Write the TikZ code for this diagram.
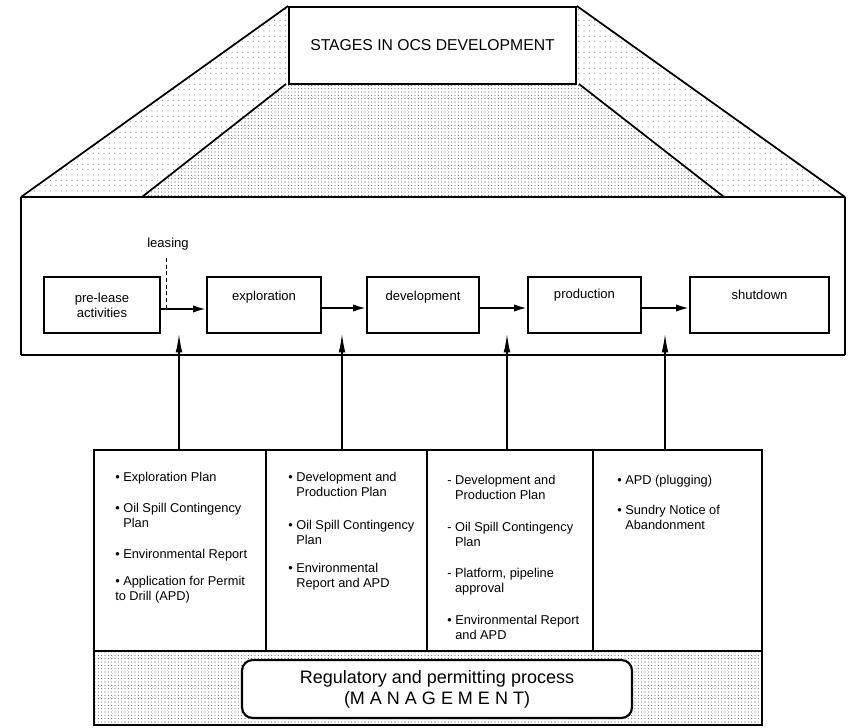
\documentclass[tikz,border=0pt]{standalone}
\usepackage{fontspec}
\setmainfont{Liberation Sans}
\usetikzlibrary{arrows.meta,patterns.meta,calc}

% stippled fills
\tikzdeclarepattern{
  name=finestipple, type=uncolored,
  bottom left={(-.1pt,-.1pt)}, top right={(2.6pt,2.6pt)},
  tile size={(2.5pt,2.5pt)},
  code={\fill (1.25pt,1.25pt) circle (0.4pt);}
}
\tikzdeclarepattern{
  name=sparsestipple, type=uncolored,
  bottom left={(-.1pt,-.1pt)}, top right={(4.1pt,4.1pt)},
  tile size={(4pt,4pt)},
  code={\fill (2pt,2pt) circle (0.38pt);}
}

\begin{document}
\begin{tikzpicture}[x=0.75pt,y=-0.75pt,
  heavy/.style={line width=2.2pt},
  edge/.style={line width=1.3pt},
  titlebox/.style={draw, line width=1.5pt, fill=white, inner sep=0pt,
    minimum width=215pt, minimum height=57.75pt,
    font=\fontsize{11.8}{14}\selectfont},
  stagebox/.style={draw, line width=1pt, inner sep=0pt, minimum height=42pt},
  stagelabel/.style={inner sep=0pt, align=center,
    font=\fontsize{9.8}{11.25}\selectfont},
  harrow/.style={line width=1.6pt, -{Latex[length=10pt,width=5.5pt]}},
  uparrow/.style={line width=1.1pt, -{Latex[length=14pt,width=5pt]}},
  item/.style={anchor=north west, inner sep=0pt, align=left,
    font=\fontsize{9.6}{11.5}\selectfont},
  mgmtbox/.style={draw, line width=1.6pt, fill=white, rounded corners=8pt,
    minimum width=292.5pt, minimum height=43.5pt, align=center,
    font=\fontsize{13.5}{16}\selectfont},
  stipple/.style={pattern=finestipple, pattern color=black!65},
  sparse/.style={pattern=sparsestipple, pattern color=black!55}
]
\useasboundingbox (0,0) rectangle (848,727);

% ---------- roof over the stage frame ----------
\node[titlebox] (title) at (432.5,45.5) {STAGES IN OCS DEVELOPMENT};
\coordinate (outerL) at (21,197);
\coordinate (outerR) at (845,197);
\coordinate (innerL) at (142,197);
\coordinate (innerR) at (724,197);
\coordinate (innerTL) at (286,84);
\coordinate (innerTR) at (579,84);

\fill[sparse] (title.north west) -- (outerL) -- (innerL) -- (innerTL)
  -- (title.south west) -- cycle;
\fill[sparse] (title.north east) -- (outerR) -- (innerR) -- (innerTR)
  -- (title.south east) -- cycle;
\fill[stipple] (innerTL) -- (innerTR) -- (innerR) -- (innerL) -- cycle;
\node[titlebox] at (title) {STAGES IN OCS DEVELOPMENT};

\draw[edge] (title.north west) -- (outerL);
\draw[edge] (title.north east) -- (outerR);
\draw[edge] (innerTL) -- (innerL);
\draw[edge] (innerTR) -- (innerR);

% ---------- stage frame ----------
\coordinate (frameBL) at (21,355);
\coordinate (frameBR) at (845,355);
\draw[line width=1pt] (outerL) -- (frameBL);
\draw[line width=1.3pt] (outerR) -- (frameBR);
\draw[heavy] (outerL) -- (outerR);
\draw[heavy] (frameBL) -- (frameBR);

% ---------- stages ----------
\node[stagebox, minimum width=87pt]    (prel) at (102,305) {};
\node[stagebox, minimum width=85.5pt]  (expl) at (264,305) {};
\node[stagebox, minimum width=84pt]    (devl) at (423,305) {};
\node[stagebox, minimum width=84.75pt] (prod) at (584.5,305) {};
\node[stagebox, minimum width=104.25pt](shut) at (759.5,305) {};

\node[stagelabel] (prelT) at (prel) {pre-lease\\activities};
\node[stagelabel] (explT) at ($(expl.north)+(0,21)$) {exploration};
\node[stagelabel] (devlT) at ($(devl.north)+(0,21)$) {development};
\node[stagelabel] (prodT) at ($(prod.north)+(0,19)$) {production};
\node[stagelabel] (shutT) at ($(shut.north)+(0,18)$) {shutdown};

\draw[harrow] ($(prel.east)+(0,4)$) -- ($(expl.west)+(0,4)$);
\draw[harrow] ($(expl.east)+(0,3)$) -- ($(devl.west)+(0,3)$);
\draw[harrow] ($(devl.east)+(0,3)$) -- ($(prod.west)+(0,3)$);
\draw[harrow] ($(prod.east)+(0,3)$) -- ($(shut.west)+(0,3)$);

% leasing marker
\node[stagelabel] (leasing) at (168,244) {leasing};
\coordinate (leasefoot) at (166,309);
\draw[dashed, line width=0.5pt, dash pattern=on 3pt off 2pt]
  (leasefoot |- 0,258) -- (leasefoot);

% ---------- requirement table ----------
\coordinate (tabTL) at (94,450);
\coordinate (tabBR) at (762,725);
\coordinate (bandT) at (94,651);
\fill[stipple] (bandT) rectangle (tabBR);
\draw[line width=1.3pt] (tabTL) rectangle (tabBR);
\draw[line width=1pt] (bandT) -- (bandT -| tabBR);
\foreach \x in {266,427,593}
  \draw[line width=1.1pt] (\x,450) -- (\x,651);

% upward links from the table to the stages
\coordinate (up1) at (179,450);
\coordinate (up2) at (342,450);
\coordinate (up3) at (507,450);
\coordinate (up4) at (665,450);
\draw[uparrow] (up1) -- (up1 |- prel.south);
\draw[uparrow] (up2) -- (up2 |- expl.south);
\draw[uparrow] (up3) -- (up3 |- devl.south);
\draw[uparrow] (up4) -- (up4 |- prod.south);

% column 1
\node[item] (c1a) at (115,472) {\textbullet\ Exploration Plan};
\node[item] (c1b) at (115,503) {\textbullet\ Oil Spill Contingency\\\hphantom{\textbullet\ }Plan};
\node[item] (c1c) at (115,549) {\textbullet\ Environmental Report};
\node[item] (c1d) at (115,576) {\textbullet\ Application for Permit\\to Drill (APD)};

% column 2
\node[item] (c2a) at (288,472) {\textbullet\ Development and\\\hphantom{\textbullet\ }Production Plan};
\node[item] (c2b) at (288,520) {\textbullet\ Oil Spill Contingency\\\hphantom{\textbullet\ }Plan};
\node[item] (c2c) at (288,563) {\textbullet\ Environmental\\\hphantom{\textbullet\ }Report and APD};

% column 3
\node[item] (c3a) at (447,475) {-\ Development and\\\hphantom{-\ }Production Plan};
\node[item] (c3b) at (447,522) {-\ Oil Spill Contingency\\\hphantom{-\ }Plan};
\node[item] (c3c) at (447,568) {-\ Platform, pipeline\\\hphantom{-\ }approval};
\node[item] (c3d) at (447,615) {\textbullet\ Environmental Report\\\hphantom{\textbullet\ }and APD};

% column 4
\node[item] (c4a) at (617,475) {\textbullet\ APD (plugging)};
\node[item] (c4b) at (617,505) {\textbullet\ Sundry Notice of\\\hphantom{\textbullet\ }Abandonment};

% management banner
\node[mgmtbox] (mgmt) at (437,689)
  {Regulatory and permitting process\\(M A N A G E M E N T)};
\end{tikzpicture}
\end{document}
